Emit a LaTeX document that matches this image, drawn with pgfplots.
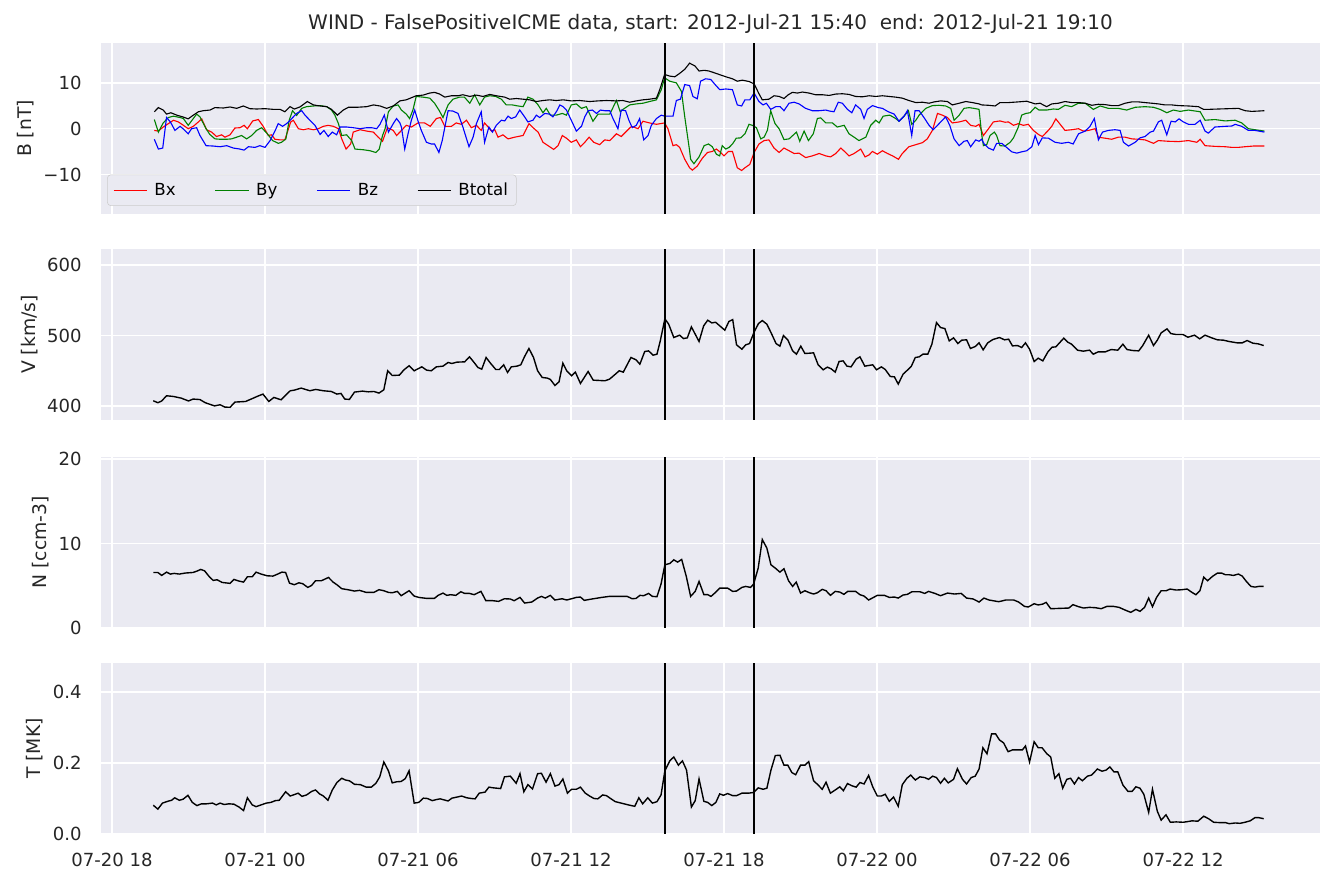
\documentclass[border=0pt]{standalone}
\usepackage{fontspec}
\setmainfont{DejaVu Sans}
\usepackage{pgfplots}
\pgfplotsset{compat=1.18}
\definecolor{sbbg}{HTML}{EAEAF2}
\definecolor{sbtext}{HTML}{262626}
\definecolor{mplgreen}{HTML}{008000}
\definecolor{mplred}{HTML}{FF0000}
\definecolor{mplblue}{HTML}{0000FF}
\pgfplotsset{
  sbpanel/.style={
    scale only axis, width=877.7pt, height=123.1pt,
    anchor=north west,
    xmin=-6.43, xmax=41.37,
    axis background/.style={fill=sbbg},
    axis line style={draw=none},
    major tick length=0pt,
    grid=major, major grid style={white, line width=1.1pt},
    xtick={-6,0,6,12,18,24,30,36},
    tick label style={font=\fontsize{13}{15}\selectfont, text=sbtext},
    yticklabel style={xshift=-10.5pt},
    xticklabel style={yshift=-10pt},
    /pgf/number format/assume math mode=true,
    label style={font=\fontsize{13.5}{15}\selectfont, text=sbtext},
    ylabel shift=0pt,
  },
  dataline/.style={black, line width=1pt},
  evline/.style={black, line width=1.4pt, forget plot},
}
\begin{document}
\begin{tikzpicture}
\path[use as bounding box] (0,0) rectangle (961.92pt,637.92pt);
% ---------------- Panel 1: B ----------------
\begin{axis}[sbpanel, at={(72.72pt,606.96pt)},
  ymin=-18.6, ymax=18.7, ytick={-10,0,10}, yticklabels={−10,0,10},
  xticklabels={},
  ylabel={B [nT]},
  title={WIND - FalsePositiveICME data, start: 2012-Jul-21 15:40\ \ end: 2012-Jul-21 19:10},
  title style={font=\fontsize{14.4}{17}\selectfont, text=sbtext, yshift=-3pt},
  legend columns=4,
  legend cell align=left,
  legend style={at={(0.005,0.047)}, anchor=south west, fill=sbbg, draw=black!20,
    rounded corners=2.5pt, font=\fontsize{12}{14}\selectfont,
    inner xsep=4pt, inner ysep=3.8pt,
    /tikz/every odd column/.append style={column sep=3pt},
    /tikz/every even column/.append style={column sep=26pt}},
]
\addplot[mplred, line width=0.8pt, legend image code/.code={\draw[mplred, line width=0.9pt] (0pt,0pt) -- (24pt,0pt);}] coordinates {
(-4.34,-0.37)(-4.18,-0.52)(-3.99,0.37)(-3.79,1.11)(-3.59,1.85)(-3.40,1.48)(-3.20,0.74)(-3.01,0.00)(-2.81,0.52)(-2.61,1.48)(-2.48,2.15)(-2.29,-0.22)(-2.09,-0.74)(-1.90,-1.70)(-1.70,-1.33)(-1.57,-1.85)(-1.37,-1.33)(-1.18,0.15)(-0.98,0.22)(-0.82,0.74)(-0.69,0.00)(-0.48,1.70)(-0.26,2.00)(-0.07,0.52)(0.13,-1.48)(0.26,-1.33)(0.39,-2.30)(0.59,-2.44)(0.78,-2.44)(1.01,1.48)(1.11,1.85)(1.31,0.00)(1.50,-0.22)(1.70,0.00)(1.90,-0.22)(2.09,0.00)(2.29,0.52)(2.48,0.74)(2.68,0.52)(2.88,0.00)(3.01,-2.22)(3.18,-4.44)(3.36,-3.33)(3.46,-0.74)(3.73,-0.22)(3.99,-0.52)(4.25,-0.74)(4.44,-1.85)(4.61,-2.74)(4.80,0.22)(5.03,-0.37)(5.16,-1.48)(5.29,-0.74)
(5.54,0.74)(5.74,0.37)(6.00,1.26)(6.26,1.26)(6.48,0.52)(6.72,2.22)(6.88,2.44)(7.05,0.52)(7.31,0.52)(7.50,1.26)(7.70,0.96)(7.90,1.85)(8.09,0.22)(8.29,0.74)(8.48,-0.37)(8.61,1.26)(8.75,0.37)(8.88,-0.52)(9.01,-0.22)(9.14,-1.85)(9.33,-1.33)(9.53,-2.22)(9.79,-1.85)(10.12,-1.48)(10.35,1.11)(10.51,0.22)(10.71,-0.74)(10.90,-2.96)(11.10,-3.70)(11.32,-4.52)(11.49,-3.70)(11.66,-1.48)(11.82,-2.07)(12.01,-2.96)(12.21,-2.44)(12.37,-3.93)(12.54,-2.96)(12.71,-1.85)(12.89,-2.96)(13.12,-3.48)(13.32,-2.44)(13.52,-2.59)(13.78,-1.11)(13.97,-1.70)(14.17,-0.59)(14.37,0.52)(14.63,0.00)(14.82,1.63)(15.08,1.26)(15.35,0.96)(15.67,1.26)(15.80,0.00)(16.00,-3.70)(16.13,-3.48)(16.26,-4.07)(16.46,-6.67)(16.65,-8.52)
(16.76,-9.04)(16.95,-8.15)(17.15,-6.44)(17.35,-5.19)(17.54,-4.96)(17.70,-4.44)(17.87,-5.19)(18.00,-5.93)(18.17,-4.96)(18.33,-4.96)(18.52,-8.52)(18.69,-9.11)(18.82,-8.52)(19.01,-7.78)(19.18,-5.19)(19.37,-3.33)(19.57,-2.59)(19.76,-2.44)(19.96,-4.22)(20.16,-5.19)(20.35,-4.22)(20.55,-4.81)(20.75,-5.41)(20.94,-5.33)(21.20,-6.30)(21.46,-5.93)(21.73,-5.41)(21.99,-5.93)(22.18,-6.15)(22.38,-5.41)(22.58,-4.22)(22.77,-5.19)(22.90,-5.93)(23.10,-5.41)(23.36,-4.44)(23.53,-6.15)(23.69,-5.70)(23.82,-4.96)(24.01,-5.56)(24.21,-4.81)(24.41,-5.41)(24.61,-5.93)(24.84,-6.67)(24.99,-5.41)(25.25,-3.93)(25.52,-3.48)(25.78,-3.04)(25.97,-2.22)(26.17,-0.37)(26.37,3.33)(26.56,2.96)(26.76,2.44)(26.95,1.26)(27.22,1.48)(27.48,1.85)(27.67,0.74)(27.87,0.52)(28.00,0.96)
(28.17,-1.48)(28.37,0.00)(28.56,1.48)(28.82,1.70)(29.02,1.41)(29.15,1.48)(29.35,0.74)(29.54,1.11)(29.74,0.74)(29.93,0.96)(30.13,-0.37)(30.33,-1.26)(30.48,-1.70)(30.69,-0.52)(30.85,0.52)(31.01,2.15)(31.18,0.96)(31.37,-0.37)(31.63,-0.22)(31.90,0.00)(32.09,-0.52)(32.29,-0.37)(32.55,0.00)(32.68,-1.85)(32.94,-2.07)(33.20,-2.30)(33.46,-1.85)(33.73,-1.85)(33.99,-2.22)(34.25,-2.30)(34.51,-2.44)(34.84,-3.19)(35.03,-2.59)(35.42,-2.74)(35.82,-2.81)(36.21,-2.59)(36.54,-2.96)(36.67,-2.30)(36.86,-3.70)(37.25,-3.85)(37.65,-3.93)(37.91,-4.07)(38.17,-4.07)(38.43,-3.93)(38.76,-3.78)(39.19,-3.78)
};
\addlegendentry{Bx}
\addplot[mplgreen, line width=0.8pt, legend image code/.code={\draw[mplgreen, line width=0.9pt] (0pt,0pt) -- (24pt,0pt);}] coordinates {
(-4.34,2.00)(-4.18,-0.74)(-3.99,1.26)(-3.79,2.44)(-3.59,2.74)(-3.33,2.44)(-3.20,2.22)(-3.01,0.74)(-2.81,2.22)(-2.68,3.19)(-2.55,2.59)(-2.31,0.00)(-2.16,-1.26)(-1.96,-2.22)(-1.76,-2.30)(-1.50,-2.30)(-1.31,-2.22)(-1.11,-1.85)(-0.92,-1.48)(-0.72,-2.22)(-0.52,-1.48)(-0.33,-0.37)(-0.13,0.22)(0.07,-0.96)(0.30,-2.59)(0.52,-3.19)(0.65,-2.96)(0.82,-2.22)(0.95,1.85)(1.08,3.93)(1.24,2.89)(1.44,4.44)(1.63,4.81)(1.90,4.96)(2.16,5.04)(2.42,4.81)(2.61,4.07)(2.74,2.96)(2.88,1.11)(3.01,-1.48)(3.20,-1.33)(3.40,-2.59)(3.53,-4.44)(3.86,-4.59)(4.12,-4.81)(4.35,-5.19)(4.48,-4.44)(4.61,-1.48)(4.71,0.00)(4.84,3.70)(5.03,4.96)(5.22,5.19)
(5.35,4.07)(5.54,3.19)(5.67,2.22)(5.80,4.07)(5.93,7.04)(6.20,6.89)(6.46,6.67)(6.65,5.56)(6.82,4.07)(6.98,2.44)(7.18,5.19)(7.37,6.44)(7.63,6.89)(7.82,6.89)(8.03,5.56)(8.22,7.41)(8.42,5.19)(8.61,6.89)(8.81,7.19)(9.05,7.04)(9.27,6.44)(9.46,5.19)(9.70,5.19)(9.92,4.96)(10.12,4.81)(10.31,6.89)(10.51,6.44)(10.71,5.19)(10.90,3.48)(11.03,4.44)(11.19,2.96)(11.42,2.96)(11.66,3.33)(11.82,2.96)(12.01,5.19)(12.21,5.41)(12.41,4.44)(12.60,4.81)(12.86,1.63)(13.06,3.19)(13.25,3.19)(13.52,3.19)(13.78,6.15)(13.93,3.70)(14.04,4.22)(14.30,5.19)(14.56,5.41)(14.82,5.56)(15.08,5.93)(15.35,6.30)(15.54,8.52)(15.67,11.11)(15.87,10.37)(16.13,10.00)(16.33,8.15)(16.46,2.59)(16.65,-4.81)
(16.69,-6.67)(16.82,-7.63)(17.02,-6.15)(17.22,-3.70)(17.39,-3.33)(17.54,-3.93)(17.70,-5.56)(17.83,-5.93)(17.93,-3.70)(18.07,-4.44)(18.20,-4.07)(18.33,-3.33)(18.48,-2.07)(18.65,-2.00)(18.82,-1.11)(18.98,0.96)(19.11,0.74)(19.27,0.22)(19.44,-2.22)(19.57,-1.85)(19.70,-0.37)(19.83,3.93)(20.00,1.11)(20.16,0.00)(20.35,-2.37)(20.55,-2.22)(20.84,-0.74)(20.97,-2.74)(21.14,-0.52)(21.31,-2.59)(21.50,-1.11)(21.66,2.22)(21.79,2.37)(21.99,1.26)(22.25,1.26)(22.44,0.37)(22.71,0.74)(22.90,-1.11)(23.10,-1.85)(23.29,-2.59)(23.56,-1.85)(23.75,0.74)(23.95,1.85)(24.08,1.26)(24.24,2.74)(24.50,2.96)(24.73,2.22)(24.86,1.63)(25.06,2.74)(25.23,3.93)(25.36,0.96)(25.52,1.85)(25.65,2.96)(25.91,4.44)(26.17,5.04)(26.43,5.11)(26.69,4.96)(26.89,4.44)(27.02,1.85)(27.22,2.96)(27.41,4.44)(27.61,4.60)(27.80,4.44)(28.00,4.22)
(28.10,-1.11)(28.17,-3.70)(28.30,-3.48)(28.43,-1.48)(28.60,-0.74)(28.69,-1.48)(28.82,-3.70)(29.02,-3.78)(29.22,-2.96)(29.35,-2.00)(29.54,0.37)(29.67,2.96)(29.83,3.33)(30.00,3.48)(30.20,4.67)(30.35,4.07)(30.65,4.07)(30.91,4.30)(31.11,4.22)(31.37,5.11)(31.63,4.81)(31.90,5.56)(32.16,5.56)(32.48,4.22)(32.75,4.96)(33.07,4.44)(33.46,4.44)(33.79,4.07)(34.12,4.67)(34.51,4.81)(34.84,4.67)(35.10,4.22)(35.36,3.48)(35.62,4.07)(35.88,3.78)(36.21,4.07)(36.67,3.70)(36.86,1.85)(37.25,2.00)(37.65,1.70)(38.04,1.85)(38.30,1.26)(38.56,0.00)(38.82,-0.22)(39.19,-0.52)
};
\addlegendentry{By}
\addplot[mplblue, line width=0.8pt, legend image code/.code={\draw[mplblue, line width=0.9pt] (0pt,0pt) -- (24pt,0pt);}] coordinates {
(-4.34,-2.30)(-4.18,-4.44)(-4.01,-4.22)(-3.86,2.44)(-3.71,1.48)(-3.53,-0.37)(-3.33,0.52)(-3.20,-0.07)(-3.01,-1.11)(-2.88,0.00)(-2.68,0.22)(-2.55,-1.48)(-2.31,-3.70)(-2.03,-3.78)(-1.76,-3.93)(-1.50,-3.70)(-1.24,-4.22)(-0.98,-4.44)(-0.82,-4.67)(-0.65,-3.93)(-0.39,-4.07)(-0.20,-3.70)(0.00,-4.07)(0.20,-2.59)(0.39,-0.52)(0.52,1.11)(0.69,0.52)(0.85,1.11)(1.05,2.22)(1.24,3.33)(1.44,3.93)(1.57,2.96)(1.76,1.85)(1.96,0.74)(2.16,-1.26)(2.31,-0.37)(2.48,-1.70)(2.64,-0.74)(2.81,-1.33)(2.94,0.37)(3.20,0.37)(3.46,0.22)(3.73,0.00)(3.99,0.22)(4.18,0.22)(4.38,0.00)(4.51,0.96)(4.68,2.96)(4.84,-0.74)(5.03,1.11)(5.16,2.22)(5.29,1.26)
(5.35,0.37)(5.48,-4.44)(5.61,-1.11)(5.74,1.85)(5.87,4.07)(6.00,1.70)(6.13,-0.37)(6.33,-2.96)(6.52,-3.33)(6.65,-3.33)(6.82,-5.19)(6.95,-2.59)(7.18,3.93)(7.37,3.85)(7.57,3.33)(7.76,0.37)(8.00,-3.93)(8.16,-1.85)(8.29,1.11)(8.48,3.70)(8.61,-2.96)(8.78,0.37)(8.92,-0.74)(9.07,0.74)(9.27,1.85)(9.40,1.70)(9.53,2.74)(9.66,2.22)(9.83,2.59)(9.99,4.07)(10.18,2.59)(10.31,1.48)(10.51,1.85)(10.64,2.96)(10.77,2.44)(10.97,3.33)(11.16,3.19)(11.29,2.59)(11.45,3.93)(11.56,5.19)(11.69,4.81)(11.82,4.07)(12.01,1.85)(12.21,-0.52)(12.41,0.52)(12.54,2.59)(12.67,3.93)(12.84,4.07)(13.00,3.33)(13.15,4.07)(13.32,3.93)(13.52,3.93)(13.65,2.15)(13.84,0.00)(13.97,4.07)(14.14,3.93)(14.27,1.85)(14.40,0.22)(14.56,0.74)(14.69,2.22)(14.85,-2.44)(15.02,-1.48)(15.15,0.74)(15.35,2.22)(15.54,2.96)(15.67,2.74)(15.84,2.74)(16.00,2.74)(16.13,6.15)(16.29,6.44)(16.46,9.63)(16.65,9.41)
(16.78,7.04)(16.95,6.52)(17.08,10.37)(17.28,10.89)(17.48,10.74)(17.65,9.63)(17.83,8.52)(18.07,8.67)(18.33,8.52)(18.52,5.19)(18.69,4.96)(18.82,6.30)(19.01,6.30)(19.18,7.78)(19.37,5.93)(19.53,5.19)(19.66,5.56)(19.83,4.22)(20.03,4.81)(20.20,4.81)(20.35,3.93)(20.55,5.56)(20.75,5.78)(20.94,5.41)(21.20,4.44)(21.46,3.93)(21.73,3.93)(21.99,4.07)(22.14,3.85)(22.31,3.70)(22.48,5.78)(22.64,5.56)(22.84,4.22)(23.01,3.48)(23.16,5.19)(23.36,4.22)(23.49,2.22)(23.62,4.22)(23.82,5.04)(24.05,4.60)(24.21,4.44)(24.44,3.70)(24.67,3.19)(24.86,1.63)(25.06,2.74)(25.19,3.93)(25.36,-1.48)(25.49,3.93)(25.65,3.93)(25.84,2.44)(26.04,0.74)(26.20,-0.22)(26.37,0.74)(26.56,1.85)(26.69,2.59)(26.85,0.74)(27.02,-2.22)(27.22,-3.70)(27.41,-2.74)(27.54,-2.59)(27.67,-3.93)(27.87,-2.44)(28.00,-2.74)
(28.10,-2.30)(28.20,-3.33)(28.37,-4.22)(28.56,-4.67)(28.69,-3.19)(28.89,-3.19)(29.08,-4.07)(29.28,-5.04)(29.48,-5.33)(29.67,-5.04)(29.87,-4.81)(30.07,-3.93)(30.20,-1.48)(30.33,-3.48)(30.48,-2.00)(30.72,-2.07)(30.98,-2.96)(31.24,-3.19)(31.50,-2.96)(31.69,-3.33)(31.90,-1.11)(32.16,-0.52)(32.35,0.52)(32.52,2.22)(32.68,-2.44)(32.84,-0.74)(33.07,-0.37)(33.33,-0.22)(33.53,-0.37)(33.66,-2.96)(33.86,-3.78)(34.12,-2.96)(34.31,-2.00)(34.51,-1.70)(34.71,-0.74)(34.84,-0.52)(35.03,1.48)(35.16,1.85)(35.36,-1.33)(35.53,1.63)(35.69,1.48)(35.84,2.15)(36.01,1.48)(36.21,0.96)(36.47,0.96)(36.67,1.85)(36.86,-0.52)(36.99,-0.96)(37.25,0.37)(37.65,0.52)(37.91,0.59)(38.04,0.96)(38.30,0.52)(38.56,-0.37)(38.82,-0.37)(39.19,-0.74)
};
\addlegendentry{Bz}
\addplot[black, line width=0.8pt, legend image code/.code={\draw[black, line width=0.9pt] (0pt,0pt) -- (24pt,0pt);}] coordinates {
(-4.34,3.70)(-4.18,4.60)(-3.99,4.07)(-3.86,3.19)(-3.69,3.48)(-3.46,2.96)(-3.23,2.59)(-3.01,2.15)(-2.81,2.96)(-2.61,3.70)(-2.42,3.93)(-2.16,4.07)(-1.96,4.60)(-1.63,4.52)(-1.37,4.74)(-1.11,4.44)(-0.85,4.96)(-0.59,4.37)(-0.33,4.30)(0.00,4.37)(0.33,4.22)(0.59,4.22)(0.78,3.70)(0.98,4.81)(1.15,4.30)(1.37,4.74)(1.66,5.93)(1.90,5.19)(2.16,4.96)(2.42,4.81)(2.61,4.22)(2.84,2.96)(3.07,4.07)(3.27,4.67)(3.59,4.67)(3.99,4.81)(4.25,5.19)(4.51,4.96)(4.77,4.44)(5.03,4.96)(5.29,6.07)(5.54,6.30)(5.93,7.19)(6.20,7.33)(6.46,7.78)(6.65,7.93)(6.85,7.56)(7.05,6.89)(7.31,7.19)(7.57,7.19)(7.76,7.41)(8.03,7.04)(8.29,7.33)(8.55,7.04)(8.81,7.48)(9.07,7.19)(9.40,6.89)(9.59,6.44)(9.86,6.59)(10.12,6.44)(10.38,6.30)(10.64,5.93)(10.90,6.15)(11.16,6.30)(11.42,6.15)(11.69,6.30)(12.01,6.07)(12.34,6.15)(12.73,5.93)(13.06,6.07)(13.39,6.15)(13.78,6.07)(14.04,6.15)(14.30,5.78)(14.56,6.07)(14.82,6.30)(15.08,6.44)(15.35,6.67)(15.48,8.52)(15.67,11.85)(15.87,11.48)(16.07,11.33)(16.26,12.07)(16.46,12.96)(16.65,14.30)(16.86,13.70)(17.02,12.59)(17.22,12.74)(17.41,12.59)(17.61,12.22)(17.80,11.85)(18.07,11.33)(18.33,10.89)(18.52,10.37)(18.72,10.59)(18.98,10.30)(19.18,9.78)(19.37,7.63)(19.50,6.30)(19.76,6.44)(19.96,7.19)(20.16,7.04)(20.35,6.59)(20.52,7.41)(20.68,7.93)(20.88,7.78)(21.07,8.00)(21.33,7.78)(21.59,7.41)(21.86,7.41)(22.12,7.26)(22.38,7.56)(22.64,7.63)(22.90,7.48)(23.16,7.04)(23.42,6.96)(23.69,7.19)(23.95,7.04)(24.21,7.19)(24.47,7.04)(24.73,6.89)(24.99,6.67)(25.25,6.15)(25.52,5.70)(25.78,5.78)(26.04,5.56)(26.24,5.85)(26.50,6.07)(26.76,5.93)(26.95,5.19)(27.22,5.56)(27.48,5.93)(27.74,5.70)(28.00,5.41)(28.10,5.19)(28.37,5.11)(28.63,4.96)(28.82,5.70)(29.15,5.70)(29.54,5.85)(29.87,6.00)(30.20,5.41)(30.39,5.56)(30.65,4.81)(30.85,5.41)(31.11,5.56)(31.37,5.93)(31.63,5.70)(31.90,5.70)(32.16,5.56)(32.42,5.11)(32.68,5.33)(32.94,5.26)(33.20,5.04)(33.46,5.04)(33.73,5.56)(33.99,5.85)(34.25,5.85)(34.51,5.70)(34.77,5.56)(35.03,5.41)(35.29,5.19)(35.56,5.19)(35.82,5.04)(36.21,4.96)(36.60,4.81)(36.80,4.22)(36.99,4.22)(37.39,4.30)(37.78,4.37)(38.17,4.44)(38.43,3.93)(38.69,3.78)(38.95,3.85)(39.19,3.93)
};
\addlegendentry{Btotal}
\addplot[evline] coordinates {(15.667,-18.6)(15.667,18.7)};
\addplot[evline] coordinates {(19.167,-18.6)(19.167,18.7)};
\end{axis}
% ---------------- Panel 2: V ----------------
\begin{axis}[sbpanel, at={(72.72pt,458.64pt)},
  ymin=380, ymax=623, ytick={400,500,600}, yticklabels={400,500,600},
  xticklabels={},
  ylabel={V [km/s]},
]
\addplot[dataline] coordinates {
(-4.38,407.3)(-4.20,404.5)(-4.05,407.0)(-3.86,414.4)(-3.59,413.4)(-3.28,411.0)(-3.00,407.0)(-2.82,409.7)(-2.55,409.0)(-2.34,404.5)(-1.98,400.0)(-1.76,401.6)(-1.57,398.3)(-1.37,398.0)(-1.18,405.4)(-0.76,406.3)(-0.46,411.0)(-0.31,413.4)(-0.08,416.8)(0.15,406.3)(0.35,412.0)(0.63,408.7)(0.99,421.5)(1.15,422.4)(1.42,425.3)(1.76,421.5)(1.99,423.4)(2.29,421.5)(2.60,420.5)(2.82,416.8)(2.98,417.7)(3.13,409.7)(3.31,409.2)(3.51,419.6)(3.82,421.0)(4.05,420.0)(4.27,420.5)(4.47,418.2)(4.66,422.9)(4.81,449.9)(4.99,443.2)(5.27,443.7)(5.45,451.3)(5.65,457.0)(5.85,449.9)(6.15,455.5)(6.34,450.8)(6.52,449.9)(6.72,455.5)(6.98,456.5)(7.18,461.7)(7.33,460.3)(7.53,462.2)(7.83,462.6)(8.02,469.7)(8.20,461.7)(8.35,454.6)(8.50,452.2)(8.67,468.8)(8.85,460.3)(9.05,451.8)(9.19,451.8)(9.36,458.4)(9.51,447.5)(9.66,455.5)(9.88,456.5)(10.03,458.4)(10.18,470.2)(10.35,481.6)(10.53,468.8)(10.69,449.9)(10.87,440.4)(11.07,439.5)(11.19,437.6)(11.37,429.0)(11.53,434.2)(11.68,460.7)(11.83,449.9)(12.02,442.8)(12.17,448.0)(12.37,431.9)(12.67,448.9)(12.87,436.6)(13.13,436.1)(13.33,435.7)(13.51,438.0)(13.74,445.1)(13.89,449.9)(14.05,448.0)(14.35,468.8)(14.55,465.5)(14.70,459.3)(14.89,477.3)(15.04,478.2)(15.22,472.1)(15.37,473.5)(15.50,492.4)(15.68,523.7)(15.83,516.1)(16.03,497.2)(16.26,500.5)(16.41,495.7)(16.56,496.7)(16.72,512.3)(16.87,501.9)(17.02,491.5)(17.20,513.7)(17.36,521.8)(17.52,518.0)(17.67,518.9)(17.88,512.3)(18.03,507.6)(18.19,519.9)(18.34,522.7)(18.49,486.8)(18.70,480.6)(18.85,486.8)(19.00,488.6)(19.19,505.7)(19.35,517.0)(19.50,521.3)(19.68,516.1)(19.84,504.3)(20.04,488.6)(20.19,484.9)(20.33,500.0)(20.50,493.9)(20.69,478.2)(20.84,473.5)(21.01,484.9)(21.17,474.5)(21.35,474.9)(21.51,475.4)(21.69,458.4)(21.89,451.3)(22.05,455.1)(22.20,452.7)(22.36,448.0)(22.51,463.1)(22.67,464.0)(22.82,456.5)(22.98,455.5)(23.18,466.4)(23.33,469.7)(23.52,456.5)(23.83,458.4)(23.98,451.3)(24.17,455.5)(24.32,451.8)(24.52,441.8)(24.68,441.3)(24.83,431.0)(25.02,445.1)(25.19,450.8)(25.34,456.0)(25.50,468.8)(25.65,469.7)(25.80,473.5)(25.99,473.5)(26.15,487.7)(26.33,518.4)(26.49,511.4)(26.66,509.9)(26.83,492.4)(27.00,496.7)(27.17,488.6)(27.32,493.4)(27.51,493.9)(27.66,481.6)(27.85,484.4)(28.00,489.6)(28.16,479.7)(28.34,489.6)(28.54,494.3)(28.80,497.2)(29.00,493.9)(29.16,494.8)(29.31,485.3)(29.51,485.8)(29.67,483.0)(29.82,489.6)(29.98,480.6)(30.16,463.1)(30.32,467.8)(30.50,464.0)(30.70,476.8)(30.86,483.4)(31.01,483.9)(31.32,496.2)(31.48,490.5)(31.63,487.7)(31.86,479.2)(32.09,477.8)(32.33,479.2)(32.48,473.5)(32.67,476.8)(32.95,476.8)(33.18,480.1)(33.44,479.2)(33.64,487.7)(33.80,480.1)(34.03,478.7)(34.26,478.2)(34.41,485.3)(34.65,500.5)(34.84,485.8)(34.99,493.4)(35.14,503.8)(35.37,509.5)(35.52,502.8)(35.73,501.4)(36.00,501.4)(36.19,497.6)(36.45,500.5)(36.65,495.3)(36.86,500.5)(37.12,496.7)(37.35,493.9)(37.58,493.4)(37.81,491.5)(38.12,489.6)(38.32,489.6)(38.51,492.9)(38.74,489.1)(38.94,488.2)(39.16,485.8)
};
\addplot[evline] coordinates {(15.667,380)(15.667,623)};
\addplot[evline] coordinates {(19.167,380)(19.167,623)};
\end{axis}
% ---------------- Panel 3: N ----------------
\begin{axis}[sbpanel, at={(72.72pt,308.88pt)},
  ymin=0, ymax=20.24, ytick={0,10,20}, yticklabels={0,10,20},
  xticklabels={},
  ylabel={N [ccm-3]},
]
\addplot[dataline] coordinates {
(-4.38,6.57)(-4.20,6.57)(-4.05,6.22)(-3.86,6.61)(-3.71,6.38)(-3.56,6.46)(-3.36,6.38)(-3.13,6.50)(-2.82,6.57)(-2.67,6.73)(-2.52,6.93)(-2.37,6.77)(-2.18,6.06)(-2.03,5.63)(-1.88,5.71)(-1.68,5.39)(-1.37,5.28)(-1.22,5.75)(-1.02,5.55)(-0.84,5.43)(-0.69,6.06)(-0.50,6.06)(-0.35,6.61)(-0.15,6.38)(0.08,6.18)(0.31,6.14)(0.50,6.38)(0.66,6.61)(0.81,6.57)(0.96,5.31)(1.15,5.12)(1.33,5.35)(1.48,5.24)(1.68,4.80)(1.83,5.04)(1.98,5.59)(2.21,5.59)(2.49,5.98)(2.67,5.43)(2.82,5.12)(3.01,4.65)(3.25,4.53)(3.51,4.37)(3.71,4.45)(3.97,4.21)(4.27,4.21)(4.47,4.53)(4.66,4.41)(4.84,4.21)(4.99,4.17)(5.19,4.33)(5.34,3.82)(5.65,4.41)(5.85,3.78)(6.03,3.62)(6.34,3.50)(6.64,3.50)(6.79,3.86)(6.98,4.13)(7.13,3.86)(7.28,3.94)(7.48,3.86)(7.68,4.29)(7.83,4.09)(8.02,4.09)(8.20,3.94)(8.47,4.33)(8.66,3.23)(8.93,3.23)(9.16,3.15)(9.39,3.46)(9.62,3.43)(9.77,3.23)(10.00,3.62)(10.18,2.95)(10.46,3.07)(10.69,3.54)(10.84,3.74)(10.99,3.54)(11.19,3.86)(11.37,3.31)(11.65,3.46)(11.83,3.31)(12.02,3.46)(12.21,3.62)(12.37,3.66)(12.52,3.27)(12.82,3.43)(13.21,3.62)(13.51,3.74)(13.97,3.74)(14.20,3.74)(14.40,3.46)(14.55,3.50)(14.70,3.86)(14.85,3.82)(15.04,4.09)(15.19,3.74)(15.37,3.70)(15.53,5.20)(15.68,7.48)(15.88,7.64)(16.03,8.07)(16.18,7.80)(16.34,8.11)(16.52,6.10)(16.69,3.74)(16.87,4.33)(17.02,5.51)(17.21,3.94)(17.36,3.94)(17.49,3.74)(17.68,4.25)(17.83,4.72)(18.14,4.72)(18.34,4.33)(18.49,4.37)(18.70,4.80)(18.85,4.92)(19.04,4.80)(19.16,5.20)(19.34,7.09)(19.50,10.47)(19.68,9.45)(19.84,7.48)(20.04,7.01)(20.19,6.61)(20.35,7.01)(20.53,5.59)(20.69,4.92)(20.83,5.43)(21.00,4.13)(21.17,4.41)(21.35,4.17)(21.51,4.02)(21.66,4.17)(21.85,4.57)(22.00,4.41)(22.17,3.86)(22.36,4.33)(22.54,4.25)(22.70,3.98)(22.85,4.33)(23.16,4.33)(23.33,3.94)(23.49,3.78)(23.67,3.31)(24.01,3.86)(24.29,3.86)(24.48,3.62)(24.68,3.66)(24.83,3.54)(25.02,3.90)(25.19,3.98)(25.37,4.29)(25.68,4.29)(25.87,4.09)(26.02,4.33)(26.27,4.09)(26.49,3.82)(26.76,4.13)(27.04,4.02)(27.30,4.09)(27.51,3.54)(27.77,3.43)(28.00,3.07)(28.19,3.54)(28.39,3.31)(28.77,3.11)(29.05,3.31)(29.36,3.31)(29.55,3.07)(29.78,2.56)(29.93,2.48)(30.16,2.87)(30.32,2.72)(30.50,2.83)(30.63,3.03)(30.81,2.28)(31.17,2.32)(31.52,2.36)(31.68,2.76)(31.90,2.52)(32.10,2.36)(32.33,2.44)(32.56,2.40)(32.79,2.28)(33.02,2.56)(33.26,2.56)(33.49,2.44)(33.72,2.13)(33.95,1.85)(34.15,2.20)(34.31,1.97)(34.49,2.44)(34.65,3.54)(34.80,2.52)(34.96,3.62)(35.14,4.41)(35.34,4.41)(35.49,4.61)(35.73,4.49)(35.96,4.53)(36.16,4.61)(36.35,4.21)(36.50,3.94)(36.66,4.41)(36.81,6.02)(36.96,5.59)(37.15,6.10)(37.35,6.50)(37.51,6.50)(37.66,6.30)(37.81,6.30)(37.97,6.22)(38.17,6.38)(38.32,6.14)(38.48,5.51)(38.66,4.92)(38.82,4.84)(38.97,4.92)(39.16,4.92)
};
\addplot[evline] coordinates {(15.667,0)(15.667,20.24)};
\addplot[evline] coordinates {(19.167,0)(19.167,20.24)};
\end{axis}
% ---------------- Panel 4: T ----------------
\begin{axis}[sbpanel, at={(72.72pt,160.56pt)},
  ymin=0, ymax=0.482, ytick={0,0.2,0.4}, yticklabels={0.0,0.2,0.4},
  xticklabels={07-20 18,07-21 00,07-21 06,07-21 12,07-21 18,07-22 00,07-22 06,07-22 12},
  ylabel={T [MK]},
]
\addplot[dataline] coordinates {
(-4.38,0.081)(-4.20,0.070)(-4.02,0.087)(-3.82,0.092)(-3.66,0.095)(-3.54,0.102)(-3.36,0.095)(-3.21,0.098)(-3.02,0.109)(-2.85,0.089)(-2.67,0.080)(-2.49,0.085)(-2.29,0.085)(-2.06,0.087)(-1.91,0.082)(-1.76,0.087)(-1.60,0.083)(-1.42,0.085)(-1.22,0.084)(-1.02,0.076)(-0.84,0.066)(-0.69,0.102)(-0.50,0.082)(-0.35,0.077)(-0.15,0.082)(0.05,0.087)(0.23,0.089)(0.41,0.094)(0.56,0.095)(0.81,0.119)(0.99,0.107)(1.15,0.111)(1.30,0.115)(1.45,0.106)(1.63,0.110)(1.83,0.120)(1.98,0.124)(2.14,0.113)(2.29,0.107)(2.47,0.095)(2.64,0.124)(2.82,0.145)(3.01,0.157)(3.16,0.152)(3.31,0.150)(3.51,0.140)(3.74,0.139)(3.97,0.132)(4.17,0.132)(4.35,0.143)(4.50,0.161)(4.66,0.203)(4.84,0.178)(4.99,0.144)(5.15,0.147)(5.34,0.148)(5.50,0.156)(5.65,0.178)(5.85,0.087)(6.03,0.089)(6.21,0.101)(6.37,0.100)(6.56,0.094)(6.72,0.097)(6.87,0.099)(7.18,0.093)(7.33,0.101)(7.53,0.104)(7.71,0.107)(7.91,0.102)(8.09,0.100)(8.24,0.099)(8.40,0.115)(8.63,0.118)(8.78,0.132)(8.96,0.130)(9.24,0.128)(9.39,0.161)(9.62,0.163)(9.85,0.143)(10.00,0.170)(10.15,0.119)(10.31,0.139)(10.49,0.127)(10.69,0.170)(10.84,0.171)(11.02,0.146)(11.19,0.170)(11.37,0.135)(11.53,0.139)(11.68,0.155)(11.86,0.115)(12.02,0.126)(12.21,0.126)(12.37,0.132)(12.56,0.115)(12.75,0.106)(12.90,0.100)(13.05,0.099)(13.24,0.110)(13.39,0.108)(13.59,0.098)(13.74,0.091)(13.97,0.087)(14.24,0.082)(14.50,0.078)(14.66,0.102)(14.81,0.085)(15.01,0.102)(15.19,0.087)(15.37,0.091)(15.53,0.110)(15.68,0.178)(15.88,0.207)(16.03,0.217)(16.21,0.194)(16.37,0.206)(16.53,0.180)(16.72,0.076)(16.87,0.094)(17.02,0.155)(17.21,0.092)(17.36,0.089)(17.52,0.080)(17.68,0.089)(17.83,0.113)(17.98,0.109)(18.14,0.114)(18.34,0.108)(18.49,0.108)(18.70,0.115)(18.96,0.115)(19.16,0.117)(19.34,0.130)(19.53,0.126)(19.68,0.129)(19.84,0.180)(20.01,0.221)(20.19,0.222)(20.35,0.194)(20.50,0.194)(20.66,0.173)(20.81,0.167)(21.00,0.194)(21.17,0.194)(21.32,0.204)(21.51,0.150)(21.66,0.140)(21.85,0.126)(22.00,0.146)(22.17,0.115)(22.36,0.124)(22.54,0.133)(22.68,0.122)(22.84,0.142)(23.01,0.136)(23.18,0.132)(23.33,0.145)(23.49,0.141)(23.67,0.165)(23.83,0.133)(24.01,0.107)(24.17,0.107)(24.32,0.112)(24.48,0.092)(24.65,0.104)(24.83,0.078)(24.99,0.139)(25.17,0.157)(25.32,0.166)(25.50,0.152)(25.68,0.161)(25.87,0.159)(26.02,0.154)(26.18,0.163)(26.33,0.159)(26.49,0.143)(26.64,0.157)(26.79,0.144)(27.00,0.154)(27.15,0.184)(27.35,0.154)(27.51,0.141)(27.69,0.159)(27.85,0.163)(28.00,0.183)(28.15,0.243)(28.31,0.226)(28.49,0.282)(28.65,0.282)(28.80,0.265)(28.96,0.257)(29.14,0.232)(29.31,0.237)(29.55,0.237)(29.70,0.237)(29.82,0.248)(29.98,0.203)(30.16,0.260)(30.32,0.243)(30.47,0.243)(30.66,0.226)(30.81,0.217)(30.97,0.157)(31.13,0.170)(31.28,0.129)(31.44,0.154)(31.59,0.157)(31.74,0.141)(31.90,0.159)(32.05,0.150)(32.25,0.163)(32.41,0.166)(32.64,0.183)(32.82,0.177)(32.98,0.180)(33.13,0.189)(33.29,0.175)(33.44,0.175)(33.64,0.138)(33.84,0.120)(34.00,0.120)(34.15,0.133)(34.31,0.129)(34.46,0.112)(34.65,0.061)(34.80,0.126)(34.99,0.064)(35.14,0.039)(35.33,0.054)(35.50,0.033)(35.73,0.034)(36.00,0.033)(36.19,0.035)(36.35,0.037)(36.58,0.036)(36.81,0.050)(37.00,0.043)(37.20,0.033)(37.43,0.032)(37.66,0.032)(37.81,0.029)(38.05,0.031)(38.23,0.030)(38.43,0.033)(38.63,0.037)(38.82,0.046)(38.97,0.046)(39.16,0.043)
};
\addplot[evline] coordinates {(15.667,0)(15.667,0.482)};
\addplot[evline] coordinates {(19.167,0)(19.167,0.482)};
\end{axis}
\end{tikzpicture}
\end{document}
